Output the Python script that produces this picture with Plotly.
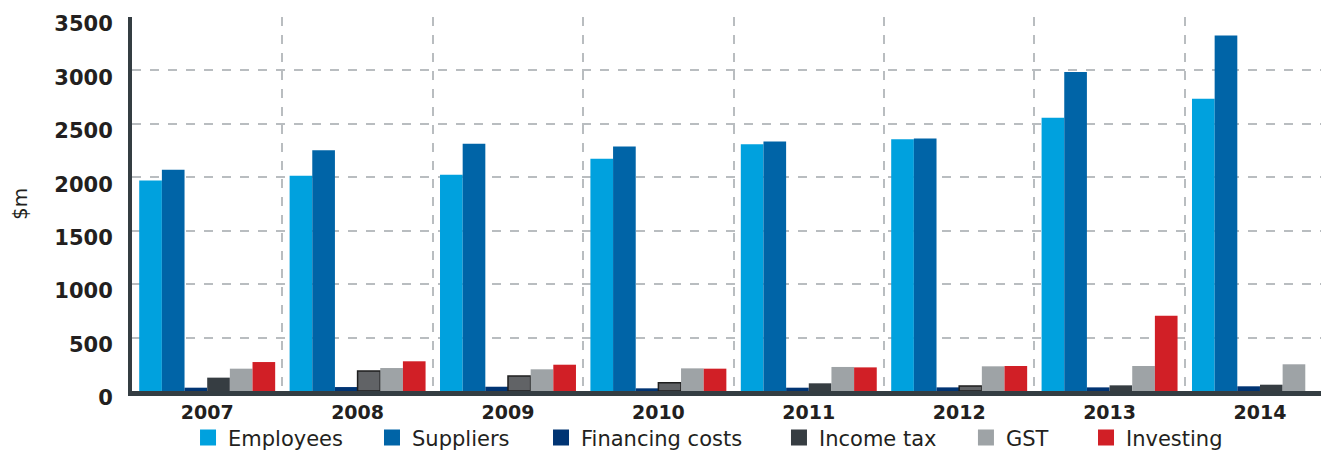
import plotly.graph_objects as go

years = ["2007", "2008", "2009", "2010", "2011", "2012", "2013", "2014"]
employees = [1970, 2015, 2024, 2174, 2308, 2355, 2558, 2735]
suppliers = [2070, 2252, 2314, 2289, 2336, 2364, 2985, 3328]
financing = [31, 37, 40, 25, 31, 34, 34, 44]
income_tax = [125, 187, 140, 78, 72, 47, 53, 59]
gst = [209, 215, 203, 212, 225, 231, 234, 250]
investing = [271, 278, 246, 209, 221, 234, 705, 0]

y_ticks = [0, 500, 1000, 1500, 2000, 2500, 3000, 3500]

tax_dark = "#363d42"
tax_light = "#616366"
tax_colors = [tax_dark, tax_light, tax_light, tax_light, tax_dark, tax_light, tax_dark, tax_dark]
tax_lw = [0 if c == tax_dark else 1.5 for c in tax_colors]

series = [
    ("Employees", employees, "#00a1de"),
    ("Suppliers", suppliers, "#0064a7"),
    ("Financing costs", financing, "#003473"),
    ("Income tax", income_tax, tax_colors),
    ("GST", gst, "#9ea3a6"),
    ("Investing", investing, "#d11f26"),
]
legend_x = [0.0468, 0.2005, 0.3417, 0.5405, 0.6967, 0.797]

fig = go.Figure()
for name, vals, col in series:
    if name == "Income tax":
        marker = dict(color=col, line=dict(color="#1e1e1e", width=tax_lw))
    else:
        marker = dict(color=col, line=dict(width=0))
    fig.add_trace(go.Bar(name=name, x=years, y=vals, marker=marker, showlegend=False))

# legend-only entries (larger square swatches), each in its own positioned legend
legend_layout = {}
for i, (name, vals, col) in enumerate(series):
    key = "legend" if i == 0 else f"legend{i + 1}"
    swatch = col[0] if isinstance(col, list) else col
    fig.add_trace(go.Scatter(
        name=name, x=[None], y=[None], mode="markers",
        marker=dict(symbol="square", size=16, color=swatch, line=dict(width=0)),
        showlegend=True, legend=key, hoverinfo="skip",
    ))
    legend_layout[key] = dict(
        orientation="h", x=legend_x[i], xanchor="left", y=-0.125, yanchor="middle",
        font=dict(size=21, color="#231f20"), itemwidth=30, itemsizing="trace",
        bgcolor="rgba(0,0,0,0)", borderwidth=0,
    )

# page body has an 8px default margin; figure sized to fit the 1329x452 window
fig.update_layout(
    width=1321, height=444,
    margin=dict(l=124, r=0, t=9, b=61, autoexpand=False),
    paper_bgcolor="white", plot_bgcolor="white",
    barmode="group", bargap=0.096, bargroupgap=0,
    font=dict(family="DejaVu Sans", color="#231f20"),
    showlegend=True,
    **legend_layout,
)
fig.update_xaxes(
    type="category", range=[-0.5, 7.459], automargin=False,
    tickson="boundaries", showgrid=True, griddash="dash",
    gridcolor="#b9bdc0", gridwidth=1.5,
    ticks="outside", ticklen=21, tickcolor="rgba(0,0,0,0)",
    tickfont=dict(size=19, weight="bold", color="#231f20"),
    showline=True, linecolor="#343d42", linewidth=5,
)
fig.update_yaxes(
    range=[0, 3500], tickvals=y_ticks, automargin=False,
    ticklabeloverflow="allow", ticklabelshift=7,
    showgrid=True, griddash="dash", gridcolor="#b9bdc0", gridwidth=1.5,
    zeroline=False,
    ticks="outside", ticklen=11, tickcolor="rgba(0,0,0,0)",
    tickfont=dict(size=21, weight="bold", color="#231f20"),
    showline=True, linecolor="#343d42", linewidth=4,
    title=dict(text="$m", font=dict(size=20, color="#231f20"), standoff=37),
)
fig.write_html("out.html")
